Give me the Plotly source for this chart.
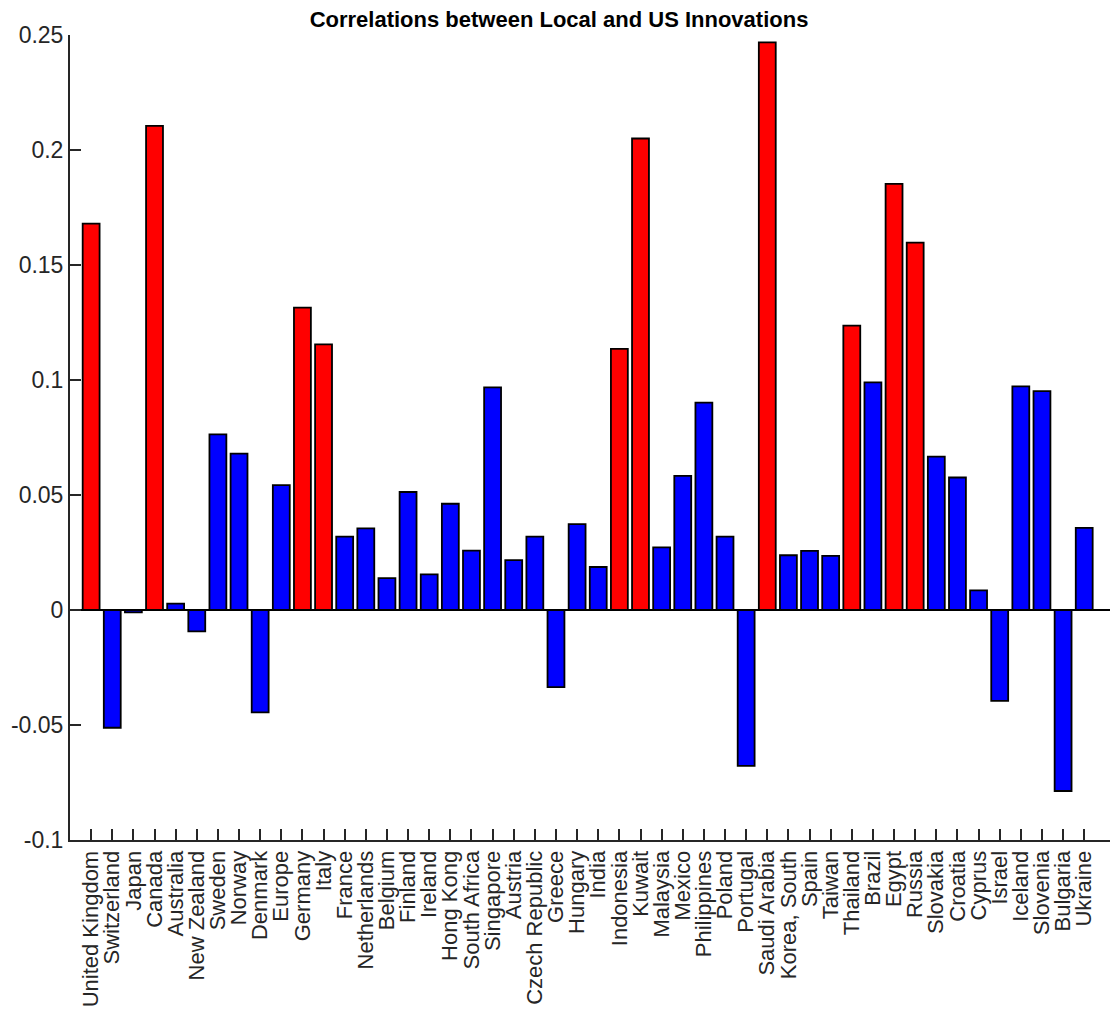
import plotly.graph_objects as go

countries = ["United Kingdom", "Switzerland", "Japan", "Canada", "Australia", "New Zealand",
             "Sweden", "Norway", "Denmark", "Europe", "Germany", "Italy", "France",
             "Netherlands", "Belgium", "Finland", "Ireland", "Hong Kong", "South Africa",
             "Singapore", "Austria", "Czech Republic", "Greece", "Hungary", "India",
             "Indonesia", "Kuwait", "Malaysia", "Mexico", "Philippines", "Poland",
             "Portugal", "Saudi Arabia", "Korea, South", "Spain", "Taiwan", "Thailand",
             "Brazil", "Egypt", "Russia", "Slovakia", "Croatia", "Cyprus", "Israel",
             "Iceland", "Slovenia", "Bulgaria", "Ukraine"]

values = [0.168, -0.0512, -0.001, 0.2105, 0.0028, -0.0093,
          0.0764, 0.068, -0.0445, 0.0543, 0.1315, 0.1155, 0.0319,
          0.0355, 0.0139, 0.0513, 0.0155, 0.0462, 0.0258,
          0.0968, 0.0217, 0.0319, -0.0335, 0.0373, 0.0187,
          0.1135, 0.205, 0.0272, 0.0583, 0.0902, 0.0319,
          -0.0678, 0.2468, 0.0238, 0.0257, 0.0235, 0.1236,
          0.099, 0.1853, 0.1597, 0.0667, 0.0576, 0.0085, -0.0395,
          0.0972, 0.0952, -0.0787, 0.0357]

highlight = ["United Kingdom", "Canada", "Germany", "Italy", "Indonesia", "Kuwait",
             "Saudi Arabia", "Thailand", "Egypt", "Russia"]

ytick_vals = [-0.1, -0.05, 0, 0.05, 0.1, 0.15, 0.2, 0.25]
ytick_text = ["-0.1", "-0.05", "0", "0.05", "0.1", "0.15", "0.2", "0.25"]

positions = list(range(1, len(countries) + 1))
colors = ["#FF0000" if c in highlight else "#0000FF" for c in countries]

fig = go.Figure()
fig.add_trace(go.Bar(
    x=positions, y=values,
    marker=dict(color=colors, line=dict(color="black", width=1.8)),
    width=0.8,
    hoverinfo="skip",
))

axis_color = "#262626"
font_family = "Liberation Sans, Arial, Helvetica, sans-serif"

fig.update_layout(
    width=1102, height=1001,
    paper_bgcolor="white", plot_bgcolor="white",
    margin=dict(l=62, r=0, t=27, b=169, autoexpand=False),
    showlegend=False,
    title=dict(text="<b>Correlations between Local and US Innovations</b>",
               x=0.5, xanchor="center", y=1.0, yanchor="top",
               pad=dict(t=4, b=0, l=0, r=0),
               font=dict(family=font_family, size=22, color="black")),
    font=dict(family=font_family, size=23, color=axis_color),
)

fig.update_xaxes(
    range=[0, 49.22],
    tickmode="array", tickvals=positions, ticktext=countries,
    tickangle=-90, automargin=False,
    ticks="inside", ticklen=11, tickwidth=1.5, tickcolor=axis_color,
    showline=True, linecolor=axis_color, linewidth=2,
    showgrid=False, zeroline=False,
    tickfont=dict(family=font_family, size=22, color=axis_color),
)
fig.update_yaxes(
    range=[-0.1, 0.25], automargin=False,
    tickmode="array", tickvals=ytick_vals, ticktext=ytick_text,
    ticks="inside", ticklen=11, tickwidth=1.5, tickcolor=axis_color,
    showline=True, linecolor=axis_color, linewidth=2,
    showgrid=False,
    zeroline=True, zerolinecolor="black", zerolinewidth=2,
    tickfont=dict(family=font_family, size=23, color=axis_color),
)

fig.write_html("out.html")
